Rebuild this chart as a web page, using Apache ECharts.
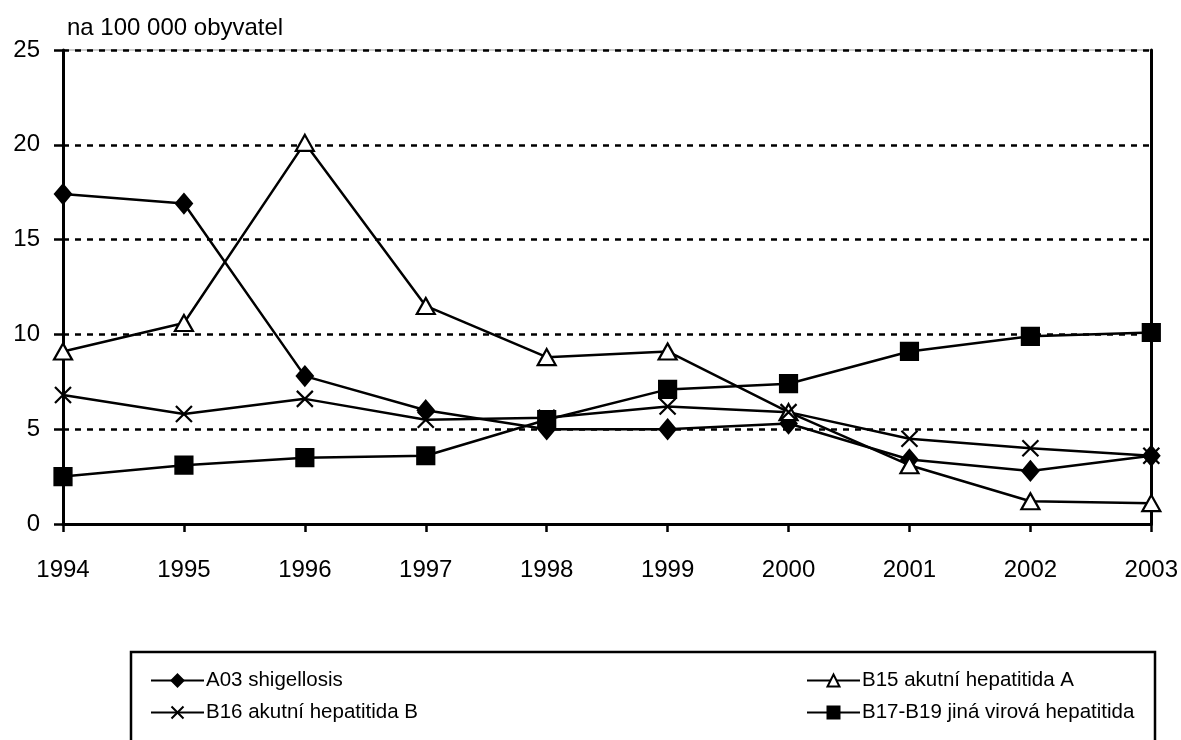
<!DOCTYPE html>
<html>
<head>
<meta charset="utf-8">
<script src="https://cdn.jsdelivr.net/npm/echarts@6/dist/echarts.min.js"></script>
<style>
html,body{margin:0;padding:0;background:#fff;}
#c{width:1181px;height:740px;}
</style>
</head>
<body>
<div id="c"></div>
<script>
const years = ['1994','1995','1996','1997','1998','1999','2000','2001','2002','2003'];
const seriesNames = ['A03 shigellosis','B15 akutní hepatitida A','B16 akutní hepatitida B','B17-B19 jiná virová hepatitida'];
const a03 = [17.4, 16.9, 7.8, 6.0, 5.0, 5.0, 5.3, 3.4, 2.8, 3.6];
const b15 = [9.1, 10.6, 20.1, 11.5, 8.8, 9.1, 5.9, 3.1, 1.2, 1.1];
const b16 = [6.8, 5.8, 6.6, 5.5, 5.6, 6.2, 5.9, 4.5, 4.0, 3.6];
const b17 = [2.5, 3.1, 3.5, 3.6, 5.5, 7.1, 7.4, 9.1, 9.9, 10.1];
const yTitle = 'na 100 000 obyvatel';

const FONT = "'Liberation Sans Narrow', 'Liberation Sans', Arial, sans-serif";
const chart = echarts.init(document.getElementById('c'), null, {renderer: 'canvas'});

const crossPath = 'path://M0,0L10,10M10,0L0,10';

function lineSeries(name, data, symbol, size, fill) {
  return {
    name: name,
    type: 'line',
    data: data,
    symbol: symbol,
    symbolSize: size,
    showAllSymbol: true,
    lineStyle: {color: '#000', width: 2.5},
    itemStyle: {color: fill, borderColor: '#000', borderWidth: 2.2},
    emphasis: {disabled: true},
    animation: false
  };
}

const legendCommon = {
  orient: 'vertical',
  top: 665,
  itemWidth: 53, itemHeight: 15, itemGap: 11,
  textStyle: {fontFamily: FONT, fontSize: 20.5, color: '#000', padding: [0, 0, 0, -3]},
  selectedMode: false
};

const option = {
  animation: false,
  backgroundColor: '#fff',
  textStyle: {fontFamily: FONT, color: '#000'},
  title: {
    text: yTitle,
    left: 62, top: 11,
    textStyle: {fontFamily: FONT, fontSize: 24, fontWeight: 'normal', color: '#000'}
  },
  grid: {left: 63, right: 28, top: 50, bottom: 216, show: true, borderColor: '#999', borderWidth: 1},
  xAxis: {
    type: 'category',
    data: years,
    boundaryGap: false,
    axisLine: {lineStyle: {color: '#000', width: 3}},
    axisTick: {show: true, alignWithLabel: true, length: 8, lineStyle: {color: '#000', width: 2.5}},
    axisLabel: {fontFamily: FONT, fontSize: 24, color: '#000', margin: 34},
    splitLine: {show: false}
  },
  yAxis: [{
    type: 'value',
    min: 0, max: 25, interval: 5,
    axisLine: {show: true, lineStyle: {color: '#000', width: 3}},
    axisTick: {show: true, length: 9, lineStyle: {color: '#000', width: 2.5}},
    axisLabel: {fontFamily: FONT, fontSize: 24, color: '#000', margin: 23, padding: [4, 0, 0, 0]},
    splitLine: {show: true, lineStyle: {color: '#000', width: 2.5, type: [6, 6]}}
  }, {
    type: 'value',
    position: 'right',
    min: 0, max: 25, interval: 5,
    axisLine: {show: true, lineStyle: {color: '#000', width: 3}},
    axisTick: {show: false},
    axisLabel: {show: false},
    splitLine: {show: false}
  }],
  legend: [
    Object.assign({data: [seriesNames[0], seriesNames[2]], left: 145}, legendCommon),
    Object.assign({data: [seriesNames[1], seriesNames[3]], left: 801}, legendCommon)
  ],
  graphic: [{
    type: 'rect',
    shape: {x: 131, y: 652, width: 1024, height: 120},
    style: {fill: 'none', stroke: '#000', lineWidth: 2.5},
    silent: true
  }],
  series: [
    lineSeries(seriesNames[0], a03, 'diamond', [16, 19], '#000'),
    lineSeries(seriesNames[1], b15, 'triangle', [18, 16], '#fff'),
    lineSeries(seriesNames[2], b16, crossPath, 16, '#000'),
    lineSeries(seriesNames[3], b17, 'rect', 17, '#000')
  ]
};
chart.setOption(option);
</script>
</body>
</html>
